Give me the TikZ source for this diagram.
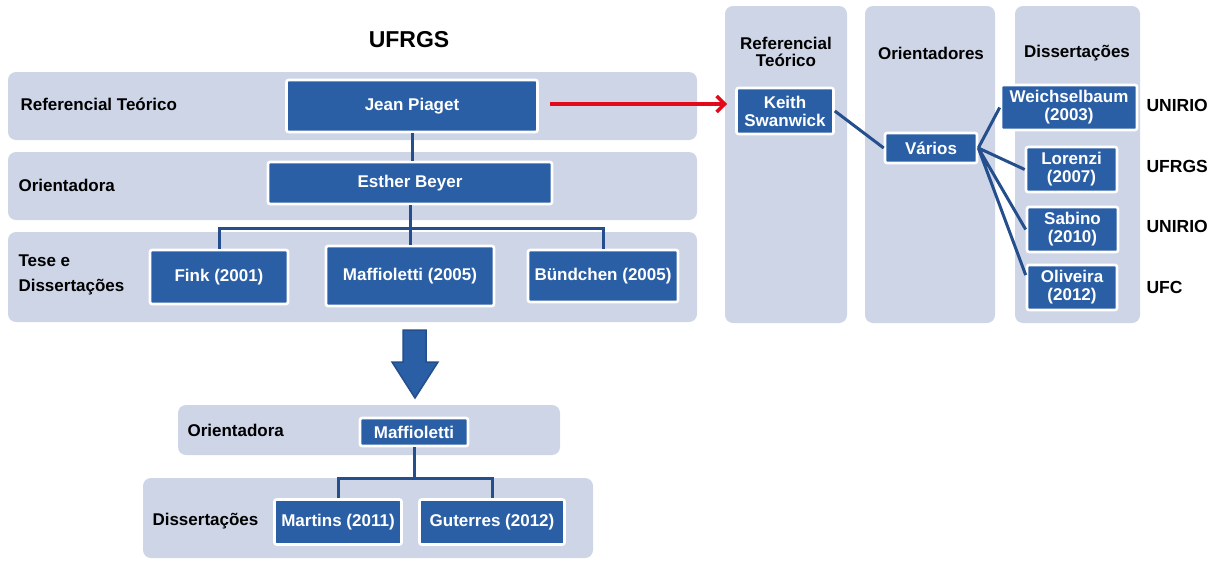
\documentclass[tikz,border=0pt]{standalone}
\usepackage{fontspec}
\setmainfont{Liberation Sans}
\usetikzlibrary{arrows.meta}
\definecolor{bandgray}{RGB}{205,213,231}
\definecolor{boxblue}{RGB}{42,95,166}
\definecolor{linkblue}{RGB}{36,78,140}
\definecolor{arrowred}{RGB}{226,10,26}
\begin{document}
\begin{tikzpicture}[x=1pt, y=-1pt,
    band/.style={fill=bandgray, rounded corners=8pt, inner sep=0pt},
    person/.style={draw=white, line width=2.6pt, fill=boxblue, text=white, rounded corners=2pt, align=center, inner sep=0pt, font=\bfseries\fontsize{17}{18}\selectfont},
    rowlabel/.style={anchor=west, align=left, font=\bfseries\fontsize{17}{25}\selectfont},
    coltitle/.style={align=center, font=\bfseries\fontsize{17}{17}\selectfont},
    uni/.style={anchor=west, font=\bfseries\fontsize{17.5}{18}\selectfont},
    link/.style={draw=linkblue, line width=3pt}]
    \useasboundingbox (0,0) rectangle (1217,560);

    \node[style=band, minimum width=689pt, minimum height=68pt] (refband) at (352.5,106) {};
    \node[style=band, minimum width=689pt, minimum height=68pt] (oriband) at (352.5,186) {};
    \node[style=band, minimum width=689pt, minimum height=90pt] (tesband) at (352.5,277) {};
    \node[style=band, minimum width=382pt, minimum height=50pt] (oribandb) at (369,430) {};
    \node[style=band, minimum width=450pt, minimum height=80pt] (disbandb) at (368,518) {};
    \node[style=band, minimum width=122pt, minimum height=317pt] (refcol) at (786,164.5) {};
    \node[style=band, minimum width=130pt, minimum height=317pt] (oricol) at (930,164.5) {};
    \node[style=band, minimum width=125pt, minimum height=317pt] (discol) at (1077.5,164.5) {};

    \node[font=\bfseries\fontsize{23}{24}\selectfont] (ufrgs) at (409,40) {UFRGS};
    \node[style=rowlabel] (reflabel) at (17,104) {Referencial Teórico};
    \node[style=rowlabel] (orilabel) at (15,185) {Orientadora};
    \node[style=rowlabel] (teslabel) at (15,275) {Tese e\\Dissertações};
    \node[style=rowlabel] (orilabelb) at (184,430) {Orientadora};
    \node[style=rowlabel] (dislabelb) at (149,521) {Dissertações};
    \node[style=coltitle] (reftitle) at (786,52) {Referencial\\Teórico};
    \node[style=coltitle] (orititle) at (931,53) {Orientadores};
    \node[style=coltitle] (distitle) at (1077,53) {Dissertações};

    \node[style=person, minimum width=251pt, minimum height=52pt] (piaget) at (412,106) {Jean Piaget};
    \node[style=person, minimum width=284pt, minimum height=42pt] (beyer) at (410,183) {Esther Beyer};
    \node[style=person, minimum width=138pt, minimum height=54pt] (fink) at (219,277) {Fink (2001)};
    \node[style=person, minimum width=168pt, minimum height=60pt] (maff) at (410,276) {Maffioletti (2005)};
    \node[style=person, minimum width=150pt, minimum height=52pt] (bund) at (603,276) {Bündchen (2005)};
    \node[style=person, minimum width=108pt, minimum height=28pt] (maffb) at (414,432) {Maffioletti};
    \node[style=person, minimum width=127pt, minimum height=45pt] (martins) at (338,522) {Martins (2011)};
    \node[style=person, minimum width=145pt, minimum height=45pt] (guterres) at (492,522) {Guterres (2012)};

    \node[style=person, minimum width=97pt, minimum height=46pt] (keith) at (785,111) {Keith\\Swanwick};
    \node[style=person, minimum width=92pt, minimum height=30pt] (varios) at (931,148) {Vários};
    \node[style=person, minimum width=136pt, minimum height=45pt] (weich) at (1069,107.5) {Weichselbaum\\(2003)};
    \node[style=person, minimum width=91pt, minimum height=45pt] (lorenzi) at (1071.5,169.5) {Lorenzi\\(2007)};
    \node[style=person, minimum width=91pt, minimum height=45pt] (sabino) at (1072.5,229.5) {Sabino\\(2010)};
    \node[style=person, minimum width=90pt, minimum height=45pt] (oliveira) at (1072,287.5) {Oliveira\\(2012)};

    \node[style=uni] (uniweich) at (1143,105) {UNIRIO};
    \node[style=uni] (unilorenzi) at (1143,166) {UFRGS};
    \node[style=uni] (unisabino) at (1143,226) {UNIRIO};
    \node[style=uni] (unioliveira) at (1143,287) {UFC};

    \coordinate (bar) at (410,228);
    \coordinate (barb) at (414,478);
    \coordinate (redstart) at (550,104);
    \coordinate (redend) at (727,104);

    \draw[style=link] (piaget.south) -- (piaget.south |- beyer.north);
    \draw[style=link] (beyer.south) -- (bar);
    \draw[style=link] (fink.north) |- (bar) -| (bund.north);
    \draw[style=link] (bar) -- (maff.north);
    \draw[style=link] (maffb.south) -- (barb);
    \draw[style=link] (martins.north) |- (barb) -| (guterres.north);
    \draw[style=link]
        (keith.east) -- (varios.west)
        (varios.east) -- (weich.west)
        (varios.east) -- (lorenzi.west)
        (varios.east) -- (sabino.west)
        (varios.east) -- (oliveira.165)
    ;
    \draw[draw=arrowred, line width=3.5pt, -{Straight Barb[length=8pt, width=16pt]}] (redstart) -- (redend);
    \filldraw[fill=boxblue, draw=linkblue, line width=1.5pt]
        (403,330) -- (426,330) -- (426,362) -- (438,362) -- (415,398) -- (392,362) -- (403,362) -- cycle;
\end{tikzpicture}
\end{document}
